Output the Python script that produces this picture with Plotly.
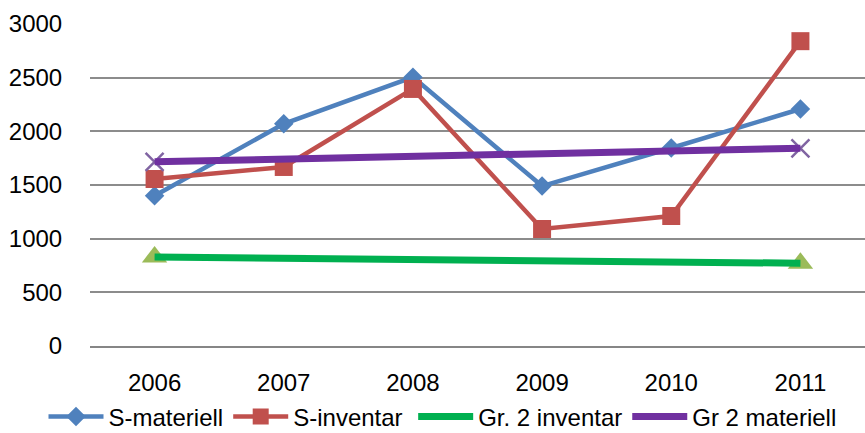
import plotly.graph_objects as go

years = ["2006", "2007", "2008", "2009", "2010", "2011"]
s_materiell = [1400, 2070, 2505, 1490, 1845, 2208]
s_inventar = [1556, 1668, 2395, 1090, 1211, 2840]
gr2_inventar = [830, None, None, None, None, 771]
gr2_materiell = [1716, None, None, None, None, 1842]
y_ticks = [0, 500, 1000, 1500, 2000, 2500, 3000]

FONT = "Liberation Sans, Arial"

fig = go.Figure()
fig.add_trace(go.Scatter(x=years, y=s_materiell, name="S-materiell", mode="lines+markers",
                         line=dict(color="#4F81BD", width=4.5),
                         marker=dict(symbol="diamond", size=15, color="#4F81BD")))
fig.add_trace(go.Scatter(x=years, y=s_inventar, name="S-inventar", mode="lines+markers",
                         line=dict(color="#C0504D", width=4.5),
                         marker=dict(symbol="square", size=18, color="#C0504D")))
fig.add_trace(go.Scatter(x=years, y=gr2_inventar, name="Gr. 2 inventar", mode="markers",
                         marker=dict(symbol="triangle-up", size=22, color="#9BBB59"),
                         showlegend=False))
fig.add_trace(go.Scatter(x=years, y=gr2_materiell, name="Gr 2 materiell", mode="markers",
                         marker=dict(symbol="x-thin", size=18, line=dict(color="#8064A2", width=2.5)),
                         showlegend=False))
fig.add_trace(go.Scatter(x=years, y=gr2_inventar, name="Gr. 2 inventar", mode="lines",
                         connectgaps=True, line=dict(color="#00B050", width=7), legend="legend2"))
fig.add_trace(go.Scatter(x=years, y=gr2_materiell, name="Gr 2 materiell", mode="lines",
                         connectgaps=True, line=dict(color="#7030A0", width=7), legend="legend2"))

legend_common = dict(orientation="h", yanchor="middle", y=-0.22, xanchor="left",
                     font=dict(size=24), itemwidth=55, tracegroupgap=0,
                     bgcolor="rgba(0,0,0,0)", borderwidth=0)

fig.update_layout(
    width=865, height=433,
    margin=dict(l=90, r=0, t=24, b=87, autoexpand=False),
    paper_bgcolor="white", plot_bgcolor="white",
    font=dict(family=FONT, size=24, color="#000000"),
    legend=dict(x=-0.06, **legend_common),
    legend2=dict(x=0.417, **legend_common),
    showlegend=True,
)
fig.update_xaxes(type="category", range=[-0.5, 5.5], showgrid=False, showline=True,
                 linecolor="#868686", linewidth=2, ticks="outside", ticklen=14,
                 tickcolor="rgba(0,0,0,0)", zeroline=False, automargin=False)
fig.update_yaxes(range=[0, 3000], tickvals=y_ticks, showgrid=True, gridcolor="#8C8C8C",
                 gridwidth=2, showline=False, zeroline=False, ticks="outside",
                 ticklen=22, tickcolor="rgba(0,0,0,0)", automargin=False)

fig.write_html("out.html", config={"displayModeBar": False},
               post_script="document.body.style.margin='0';")
